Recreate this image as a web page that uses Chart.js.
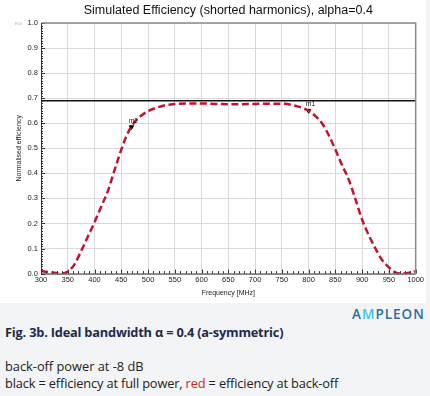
<!DOCTYPE html>
<html><head><meta charset="utf-8">
<script src="https://cdn.jsdelivr.net/npm/chart.js@4.4.1/dist/chart.umd.min.js"></script>
<style>
html,body{margin:0;padding:0;background:#f3f4f6;width:430px;height:396px;overflow:hidden;font-family:"Open Sans",sans-serif}
#panel{position:absolute;left:0;top:0;width:426px;height:303px;background:#fff}
#c{position:absolute;left:0;top:0}
.t{position:absolute;white-space:nowrap}
#fig{left:5px;top:323px;font-size:12.8px;font-weight:700;color:#1d2b4b;letter-spacing:-0.2px}
#logo{left:352px;top:305px;font-size:13.5px;font-weight:600;color:#2f6d9c;letter-spacing:1px}
#logo span{color:#3cc2ea}
#l1{left:5px;top:357px;font-size:12.8px;color:#222}
#l2{left:5px;top:374px;font-size:12.8px;color:#222;letter-spacing:-0.15px}
#l2 span{color:#d0231f}
</style></head>
<body>
<div id="panel"><canvas id="c" width="426" height="303"></canvas></div>
<div class="t" id="logo">A<span>M</span>PLEON</div>
<div class="t" id="fig">Fig. 3b. Ideal bandwidth α = 0.4 (a-symmetric)</div>
<div class="t" id="l1">back-off power at -8 dB</div>
<div class="t" id="l2">black = efficiency at full power, <span>red</span> = efficiency at back-off</div>
<script>
const chartTitle = 'Simulated Efficiency (shorted harmonics), alpha=0.4';
const freqs = [300,325,340,350,362,375,387,400,412,425,437,450,462,475,487,500,525,550,575,600,625,650,675,700,725,750,775,800,812,825,837,850,862,875,887,900,912,925,937,950,962,975,990,1000];
const backoffEff = [0.010,0.003,0.000,0.008,0.035,0.090,0.145,0.205,0.265,0.330,0.410,0.495,0.560,0.605,0.630,0.648,0.668,0.677,0.679,0.679,0.677,0.676,0.676,0.677,0.678,0.678,0.670,0.650,0.630,0.600,0.555,0.495,0.435,0.375,0.300,0.215,0.155,0.100,0.055,0.025,0.005,0.000,0.004,0.010];
const fullPowerFreqs = [300,1000];
const fullPowerEff = [0.69,0.69];
const markerNames = ["m2","m1"];
const markerFreqs = [469,800];
const markerEff = [0.585,0.650];
const xTicks = [300,350,400,450,500,550,600,650,700,750,800,850,900,950,1000];
const yTicks = [0,0.1,0.2,0.3,0.4,0.5,0.6,0.7,0.8,0.9,1.0];

const tickFont = {family:"Liberation Sans, Arial, sans-serif", size:7.5};

const extras = {
  id:'extras',
  afterDatasetsDraw(chart){
    const {ctx, chartArea:a, scales:{x,y}} = chart;
    ctx.save();
    ctx.strokeStyle='#333'; ctx.lineWidth=1;
    ctx.beginPath();
    for(let f=300; f<=1000; f+=10){const px=Math.round(x.getPixelForValue(f))+0.5; const len=(f%50===0)?4:2.5; ctx.moveTo(px,a.bottom); ctx.lineTo(px,a.bottom-len);}
    for(let i=0;i<=100;i++){const py=Math.round(y.getPixelForValue(i/100))+0.5; const len=(i%10===0)?4:2; ctx.moveTo(a.left,py); ctx.lineTo(a.left+len,py);}
    ctx.stroke();
    ctx.strokeStyle='#8a8a8a'; ctx.lineWidth=1.5;
    ctx.beginPath(); ctx.moveTo(a.left,a.top); ctx.lineTo(a.right,a.top); ctx.lineTo(a.right,a.bottom); ctx.stroke();
    ctx.strokeStyle='#333'; ctx.lineWidth=1;
    ctx.beginPath(); ctx.moveTo(a.left+0.5,a.top); ctx.lineTo(a.left+0.5,a.bottom+0.5); ctx.lineTo(a.right,a.bottom+0.5); ctx.stroke();
    ctx.fillStyle='#111'; ctx.font='6.5px "Liberation Sans", Arial, sans-serif'; ctx.textAlign='center'; ctx.textBaseline='bottom';
    markerNames.forEach((n,i)=>{ctx.fillText(n, x.getPixelForValue(markerFreqs[i])+2, y.getPixelForValue(markerEff[i])-3);});
    ctx.fillStyle='#aaa'; ctx.font='4px "Liberation Sans", Arial, sans-serif'; ctx.textAlign='right'; ctx.textBaseline='middle';
    ctx.fillText('E00', a.left-19, a.top+1);
    // title centred over plot area
    ctx.fillStyle='#111'; ctx.font='12.5px "Liberation Sans", Arial, sans-serif'; ctx.textAlign='center'; ctx.textBaseline='middle';
    ctx.fillText(chartTitle, (a.left+a.right)/2, 11);
    ctx.restore();
  }
};

new Chart(document.getElementById('c'), {
  type:'line',
  data:{datasets:[
    {label:'full power', data:fullPowerFreqs.map((f,i)=>({x:f,y:fullPowerEff[i]})), borderColor:'#111', borderWidth:1.5, pointRadius:0, tension:0},
    {label:'back-off', data:freqs.map((f,i)=>({x:f,y:backoffEff[i]})), borderColor:'#c8102e', borderWidth:2.5, borderDash:[7,3.5], pointRadius:0, cubicInterpolationMode:'monotone'},
    {label:'markers', type:'scatter', data:markerFreqs.map((f,i)=>({x:f,y:markerEff[i]})), pointStyle:'triangle', rotation:180, pointRadius:2.5, backgroundColor:'#000', borderColor:'#000', borderWidth:1}
  ]},
  options:{
    responsive:false, animation:false, devicePixelRatio:1,
    layout:{padding:{left:15,right:10,top:23,bottom:6}},
    plugins:{
      legend:{display:false}, tooltip:{enabled:false}, title:{display:false}
    },
    scales:{
      x:{type:'linear', min:300, max:1000,
        afterBuildTicks(s){s.ticks=xTicks.map(v=>({value:v}));},
        ticks:{font:tickFont, color:'#222', padding:2, maxRotation:0, autoSkip:false, callback:v=>String(v)},
        grid:{color:'#d9d9d9', drawTicks:false, lineWidth:1},
        border:{display:false},
        title:{display:true, text:'Frequency [MHz]', font:{family:"Liberation Sans, Arial, sans-serif", size:7}, color:'#222', padding:{top:2,bottom:0}}
      },
      y:{min:0, max:1,
        afterBuildTicks(s){s.ticks=yTicks.map(v=>({value:v}));},
        ticks:{font:tickFont, color:'#222', padding:3, callback:v=>v.toFixed(1)},
        grid:{color:'#d9d9d9', drawTicks:false, lineWidth:1},
        border:{display:false},
        title:{display:true, text:'Normalised efficiency', font:{family:"Liberation Sans, Arial, sans-serif", size:7}, color:'#222', padding:{top:0,bottom:4}},
        afterFit(s){s.width=26;}
      }
    }
  },
  plugins:[extras]
});
</script>
</body></html>
